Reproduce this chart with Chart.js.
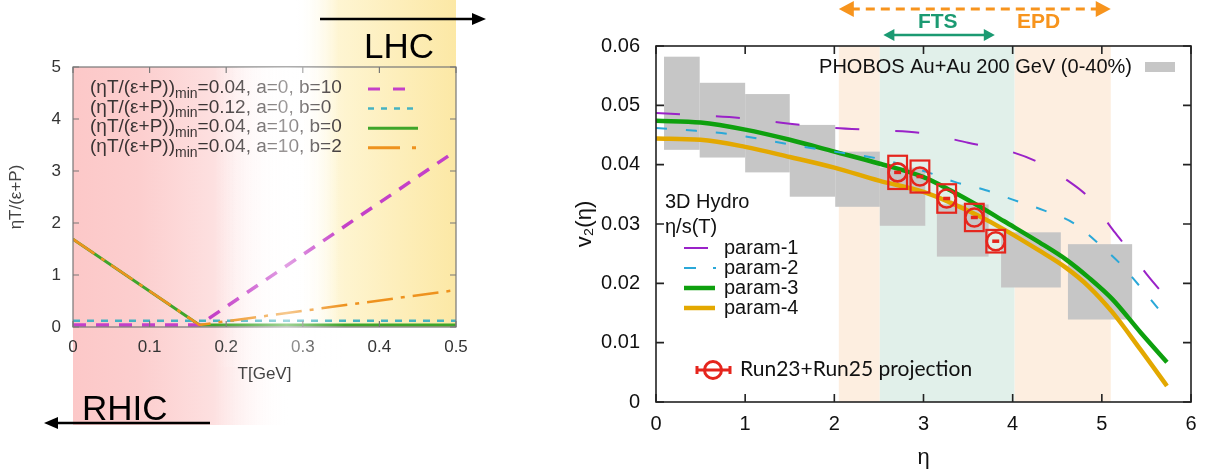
<!DOCTYPE html>
<html>
<head>
<meta charset="utf-8">
<script src="https://cdn.jsdelivr.net/npm/chart.js@4.4.0/dist/chart.umd.min.js"></script>
<style>
  html, body { margin: 0; padding: 0; background: #fff; }
  body { width: 1207px; height: 471px; position: relative; overflow: hidden; }
  canvas { position: absolute; top: 0; }
  #left { left: 0; }
  #right { left: 560px; }
</style>
</head>
<body>
<canvas id="left" width="560" height="471"></canvas>
<canvas id="right" width="647" height="471"></canvas>
<script>
// ---- left panel: (eta T/(e+P)) vs T ----
const tempTicks = [0, 0.1, 0.2, 0.3, 0.4, 0.5];
const tempLabels = ['0', '0.1', '0.2', '0.3', '0.4', '0.5'];
const ratioTicks = [0, 1, 2, 3, 4, 5];
const ratioLabels = ['0', '1', '2', '3', '4', '5'];

const setA0B10 = [{x: 0, y: 0.04}, {x: 0.165, y: 0.04}, {x: 0.5, y: 3.39}];
const setA0B0 = [{x: 0, y: 0.12}, {x: 0.5, y: 0.12}];
const setA10B0 = [{x: 0, y: 1.69}, {x: 0.165, y: 0.04}, {x: 0.5, y: 0.04}];
const setA10B2 = [{x: 0, y: 1.69}, {x: 0.165, y: 0.04}, {x: 0.5, y: 0.71}];
const setMin = ['0.04', '0.12', '0.04', '0.04'];
const setA = ['0', '0', '10', '10'];
const setB = ['10', '0', '0', '2'];

// ---- right panel: v2(eta) ----
const etaTicks = [0, 1, 2, 3, 4, 5, 6];
const etaLabels = ['0', '1', '2', '3', '4', '5', '6'];
const v2Ticks = [0, 0.01, 0.02, 0.03, 0.04, 0.05, 0.06];
const v2Labels = ['0', '0.01', '0.02', '0.03', '0.04', '0.05', '0.06'];

const param1 = [[0, .0487], [0.5, .0483], [1.0, .0478], [1.5, .0469], [2.0, .0462], [2.5, .0458], [3.0, .0453], [3.5, .0437], [4.0, .0421], [4.3, .0403], [4.6, .0375], [4.85, .0345], [5.12, .0291], [5.27, .0262], [5.52, .0212], [5.7, .0180]];
const param2 = [[0, .0462], [0.45, .0457], [0.8, .0452], [1.15, .0444], [1.5, .0434], [2.0, .0422], [2.5, .0410], [3.05, .0387], [3.35, .0371], [3.7, .0357], [4.0, .0341], [4.35, .0323], [4.7, .0300], [4.94, .0270], [5.2, .0234], [5.42, .0196], [5.7, .0145]];
const param3 = [[0, .0474], [0.5, .0471], [1.0, .0459], [1.5, .0442], [2.0, .0422], [2.5, .0402], [3.0, .0379], [3.3, .0357], [3.6, .0332], [3.9, .0305], [4.3, .0269], [4.6, .0240], [4.85, .0210], [5.12, .0173], [5.43, .0118], [5.73, .0067]];
const param4 = [[0, .0444], [0.5, .0442], [1.0, .0430], [1.5, .0413], [2.0, .0395], [2.5, .0373], [3.0, .0354], [3.3, .0336], [3.6, .0315], [3.9, .0291], [4.3, .0255], [4.6, .0226], [4.85, .0195], [5.12, .0151], [5.43, .0089], [5.73, .0027]];

const phobosLo = [0.09, 0.49, 1.00, 1.50, 2.01, 2.51, 3.15, 3.87, 4.62];
const phobosHi = [0.49, 1.00, 1.50, 2.01, 2.51, 3.02, 3.73, 4.54, 5.34];
const phobosTop = [0.0582, 0.0538, 0.0519, 0.0467, 0.0422, 0.0395, 0.0333, 0.0286, 0.0266];
const phobosBot = [0.0425, 0.0412, 0.0387, 0.0346, 0.0329, 0.0297, 0.0245, 0.0193, 0.0139];

const projEta = [2.71, 2.96, 3.26, 3.57, 3.81];
const projV2 = [0.0387, 0.0380, 0.0343, 0.0311, 0.0271];
const projSys = [0.0028, 0.0027, 0.0024, 0.0023, 0.0019];
const projSysEta = 0.105;

const epdBands = [[2.05, 2.51], [4.02, 5.10]];
const ftsBand = [2.51, 4.02];
const epdArrow = [2.05, 5.10];
const ftsArrow = [2.55, 3.80];

const SANS = '"Liberation Sans", Arial, sans-serif';
const pts = arr => arr.map(p => ({x: p[0], y: p[1]}));

function frameTicks(chart, color, width, len) {
  const {ctx, chartArea: a, scales: {x, y}} = chart;
  ctx.save();
  ctx.strokeStyle = color;
  ctx.lineWidth = width;
  ctx.strokeRect(a.left, a.top, a.right - a.left, a.bottom - a.top);
  ctx.beginPath();
  x.ticks.forEach(t => {
    const px = x.getPixelForValue(t.value);
    ctx.moveTo(px, a.bottom); ctx.lineTo(px, a.bottom - len);
    ctx.moveTo(px, a.top); ctx.lineTo(px, a.top + len);
  });
  y.ticks.forEach(t => {
    const py = y.getPixelForValue(t.value);
    ctx.moveTo(a.left, py); ctx.lineTo(a.left + len, py);
    ctx.moveTo(a.right, py); ctx.lineTo(a.right - len, py);
  });
  ctx.stroke();
  ctx.restore();
}

function arrowHead(ctx, x, y, dir, len, half) {
  ctx.beginPath();
  ctx.moveTo(x, y);
  ctx.lineTo(x - dir * len, y - half);
  ctx.lineTo(x - dir * len, y + half);
  ctx.closePath();
  ctx.fill();
}

const green = '#3fa52a', cyanL = '#45b2c2', magenta = '#c440c8', orangeL = '#ee921e';

const leftDeco = {
  id: 'leftDeco',
  beforeDraw(chart) {
    const {ctx, chartArea: a, scales: {x}} = chart;
    ctx.save();
    // RHIC side (pink) and LHC side (yellow)
    const pEnd = x.getPixelForValue(0.283);
    let g = ctx.createLinearGradient(a.left, 0, pEnd, 0);
    g.addColorStop(0, 'rgb(252,200,200)');
    g.addColorStop(0.3, 'rgb(252,206,206)');
    g.addColorStop(0.65, 'rgb(253,224,224)');
    g.addColorStop(1, 'rgba(255,255,255,0)');
    ctx.fillStyle = g;
    ctx.fillRect(a.left, a.top, pEnd - a.left, 425 - a.top);
    const yStart = x.getPixelForValue(0.29);
    g = ctx.createLinearGradient(yStart, 0, a.right, 0);
    g.addColorStop(0, 'rgba(255,255,255,0)');
    g.addColorStop(0.27, 'rgb(254,245,210)');
    g.addColorStop(0.65, 'rgb(253,238,186)');
    g.addColorStop(1, 'rgb(252,232,165)');
    ctx.fillStyle = g;
    ctx.fillRect(yStart, 0, a.right - yStart, a.bottom);
    ctx.restore();
  },
  afterDatasetsDraw(chart) {
    frameTicks(chart, '#777', 1.2, 6);
  },
  afterDraw(chart) {
    const {ctx} = chart;
    ctx.save();
    // legend
    const styles = [
      {c: magenta, w: 3, d: [12, 13]},
      {c: cyanL, w: 2.5, d: [6, 7]},
      {c: green, w: 3, d: []},
      {c: orangeL, w: 3, d: [32, 12, 4, 40]}
    ];
    ctx.textBaseline = 'middle';
    for (let i = 0; i < 4; i++) {
      const y = 88 + i * 19.6;
      let tx = 90;
      ctx.fillStyle = '#3a3434';
      ctx.font = '19px ' + SANS;
      ctx.fillText('(ηT/(ε+P))', tx, y);
      tx += ctx.measureText('(ηT/(ε+P))').width;
      ctx.font = '14px ' + SANS;
      ctx.fillText('min', tx, y + 6);
      tx += ctx.measureText('min').width;
      ctx.font = '19px ' + SANS;
      const rest = '=' + setMin[i] + ', a=' + setA[i] + ', b=' + setB[i];
      ctx.fillText(rest, tx, y);
      const s = styles[i];
      ctx.strokeStyle = s.c; ctx.lineWidth = s.w; ctx.setLineDash(s.d);
      ctx.beginPath(); ctx.moveTo(368, y + 1); ctx.lineTo(418, y + 1); ctx.stroke();
    }
    ctx.setLineDash([]);
    // fade band between the two regions
    const g = ctx.createLinearGradient(215, 0, 345, 0);
    g.addColorStop(0, 'rgba(255,255,255,0)');
    g.addColorStop(0.55, 'rgba(255,255,255,0.5)');
    g.addColorStop(1, 'rgba(255,255,255,0)');
    ctx.fillStyle = g;
    ctx.fillRect(215, 67, 130, 300);
    // RHIC / LHC arrows
    ctx.fillStyle = '#000'; ctx.strokeStyle = '#000'; ctx.lineWidth = 2.5;
    ctx.beginPath(); ctx.moveTo(320, 19); ctx.lineTo(474, 19); ctx.stroke();
    arrowHead(ctx, 486, 19, 1, 14, 6);
    ctx.beginPath(); ctx.moveTo(210, 423); ctx.lineTo(56, 423); ctx.stroke();
    arrowHead(ctx, 44, 423, -1, 14, 6);
    ctx.font = '35px ' + SANS;
    ctx.textBaseline = 'alphabetic';
    ctx.fillText('LHC', 364, 58);
    ctx.fillText('RHIC', 82, 420);
    ctx.restore();
  }
};

// Chart.js draws the first dataset on top, so the list runs top to bottom
new Chart(document.getElementById('left'), {
  type: 'line',
  data: {
    datasets: [
      {data: setA10B2, borderColor: orangeL, borderWidth: 2.5, borderDash: [26, 8, 4, 8], pointRadius: 0},
      {data: setA0B10, borderColor: magenta, borderWidth: 3.5, borderDash: [13, 10], pointRadius: 0},
      {data: setA0B0, borderColor: cyanL, borderWidth: 2.5, borderDash: [7, 7], pointRadius: 0},
      {data: setA10B0, borderColor: green, borderWidth: 3, pointRadius: 0}
    ]
  },
  options: {
    responsive: false,
    animation: false,
    events: [],
    layout: {padding: {left: 0, top: 67, right: 104, bottom: 0}},
    plugins: {legend: {display: false}, tooltip: {enabled: false}},
    scales: {
      x: {
        type: 'linear', min: 0, max: 0.5,
        afterBuildTicks: s => { s.ticks = tempTicks.map(v => ({value: v})); },
        afterFit: s => { s.height = 144; },
        grid: {display: false, drawTicks: false},
        border: {display: false},
        ticks: {padding: 10, color: '#333', font: {family: SANS, size: 17}, maxRotation: 0, autoSkip: false,
                callback: (v, i) => tempLabels[i]},
        title: {display: true, text: 'T[GeV]', color: '#444', font: {family: SANS, size: 17}, padding: {top: 0, bottom: 86}}
      },
      y: {
        type: 'linear', min: 0, max: 5,
        afterBuildTicks: s => { s.ticks = ratioTicks.map(v => ({value: v})); },
        afterFit: s => { s.width = 73; },
        grid: {display: false, drawTicks: false},
        border: {display: false},
        ticks: {padding: 12, color: '#333', font: {family: SANS, size: 17}, autoSkip: false,
                callback: (v, i) => ratioLabels[i]},
        title: {display: true, text: 'ηT/(ε+P)', color: '#444', font: {family: SANS, size: 17}, padding: {top: 6, bottom: 0}}
      }
    }
  },
  plugins: [leftDeco]
});

// ---- right panel ----
const purple = '#9a22c8', cyan = '#2aa8d8', greenR = '#0ea00e', gold = '#e3a800', red = '#e5251d', orange = '#f7941d', teal = '#1b9a72';

const rightDeco = {
  id: 'rightDeco',
  beforeDraw(chart) {
    const {ctx, chartArea: a, scales: {x}} = chart;
    ctx.save();
    ctx.fillStyle = '#fdeee0';
    epdBands.forEach(b => {
      const x0 = x.getPixelForValue(b[0]), x1 = x.getPixelForValue(b[1]);
      ctx.fillRect(x0, a.top, x1 - x0, a.bottom - a.top);
    });
    ctx.fillStyle = '#e1f0ea';
    const f0 = x.getPixelForValue(ftsBand[0]), f1 = x.getPixelForValue(ftsBand[1]);
    ctx.fillRect(f0, a.top, f1 - f0, a.bottom - a.top);
    ctx.restore();
  },
  beforeDatasetsDraw(chart) {
    const {ctx, scales: {x, y}} = chart;
    ctx.save();
    ctx.fillStyle = '#c6c6c6';
    for (let i = 0; i < phobosLo.length; i++) {
      const x0 = x.getPixelForValue(phobosLo[i]), x1 = x.getPixelForValue(phobosHi[i]);
      const y0 = y.getPixelForValue(phobosTop[i]), y1 = y.getPixelForValue(phobosBot[i]);
      ctx.fillRect(x0, y0, x1 - x0, y1 - y0);
    }
    ctx.restore();
  },
  afterDatasetsDraw(chart) {
    const {ctx, scales: {x, y}} = chart;
    ctx.save();
    ctx.strokeStyle = red;
    ctx.lineWidth = 2.2;
    for (let i = 0; i < projEta.length; i++) {
      const x0 = x.getPixelForValue(projEta[i] - projSysEta), x1 = x.getPixelForValue(projEta[i] + projSysEta);
      const y0 = y.getPixelForValue(projV2[i] + projSys[i]), y1 = y.getPixelForValue(projV2[i] - projSys[i]);
      ctx.strokeRect(x0, y0, x1 - x0, y1 - y0);
    }
    ctx.restore();
    frameTicks(chart, '#222', 1.6, 8);
  },
  afterDraw(chart) {
    const {ctx, scales: {x}} = chart;
    ctx.save();
    // detector acceptance arrows
    const e0 = x.getPixelForValue(epdArrow[0]), e1 = x.getPixelForValue(epdArrow[1]);
    ctx.strokeStyle = orange; ctx.fillStyle = orange; ctx.lineWidth = 3;
    ctx.setLineDash([9, 6]);
    ctx.beginPath(); ctx.moveTo(e0 + 12, 9); ctx.lineTo(e1 - 12, 9); ctx.stroke();
    ctx.setLineDash([]);
    arrowHead(ctx, e0, 9, -1, 15, 8);
    arrowHead(ctx, e1, 9, 1, 15, 8);
    const t0 = x.getPixelForValue(ftsArrow[0]), t1 = x.getPixelForValue(ftsArrow[1]);
    ctx.strokeStyle = teal; ctx.fillStyle = teal; ctx.lineWidth = 2.5;
    ctx.beginPath(); ctx.moveTo(t0 + 8, 35); ctx.lineTo(t1 - 8, 35); ctx.stroke();
    arrowHead(ctx, t0, 35, -1, 11, 6);
    arrowHead(ctx, t1, 35, 1, 11, 6);
    ctx.font = 'bold 21px ' + SANS;
    ctx.textAlign = 'center'; ctx.textBaseline = 'middle';
    ctx.fillText('FTS', x.getPixelForValue(3.16), 22);
    ctx.fillStyle = orange;
    ctx.fillText('EPD', x.getPixelForValue(4.29), 22);

    // PHOBOS legend
    ctx.fillStyle = '#111';
    ctx.font = '20px ' + SANS;
    ctx.textAlign = 'right';
    ctx.fillText('PHOBOS Au+Au 200 GeV (0-40%)', 572, 67);
    ctx.fillStyle = '#c6c6c6';
    ctx.fillRect(585, 62, 30, 10);

    // hydro legend
    ctx.textAlign = 'left';
    ctx.fillStyle = '#111';
    ctx.fillText('3D Hydro', 105, 202);
    ctx.fillText('η/s(T)', 105, 227);
    const names = ['param-1', 'param-2', 'param-3', 'param-4'];
    const styles = [
      {c: purple, w: 2, d: [], x1: 148},
      {c: cyan, w: 2, d: [12, 17], x1: 156},
      {c: greenR, w: 4.5, d: [], x1: 155},
      {c: gold, w: 4.5, d: [], x1: 155}
    ];
    names.forEach((n, i) => {
      const yy = 248 + i * 20;
      const s = styles[i];
      ctx.strokeStyle = s.c; ctx.lineWidth = s.w; ctx.setLineDash(s.d);
      ctx.beginPath(); ctx.moveTo(124, yy); ctx.lineTo(s.x1, yy); ctx.stroke();
      ctx.setLineDash([]);
      ctx.fillStyle = '#111';
      ctx.fillText(n, 164, yy);
    });

    // projection legend
    ctx.strokeStyle = red; ctx.lineWidth = 3;
    ctx.beginPath();
    ctx.moveTo(137, 370); ctx.lineTo(170, 370);
    ctx.moveTo(137, 366); ctx.lineTo(137, 374);
    ctx.moveTo(170, 366); ctx.lineTo(170, 374);
    ctx.stroke();
    ctx.beginPath(); ctx.arc(153, 370, 8.5, 0, Math.PI * 2); ctx.stroke();
    ctx.fillStyle = '#111';
    ctx.font = '21px Lato, "Open Sans", sans-serif';
    ctx.fillText('Run23+Run25 projection', 180, 369);
    ctx.restore();
  }
};

new Chart(document.getElementById('right'), {
  type: 'line',
  data: {
    datasets: [
      {data: projEta.map((e, i) => ({x: e, y: projV2[i]})), showLine: false, pointStyle: 'line',
       pointRadius: 3.5, pointBorderWidth: 3.5, pointBorderColor: red},
      {data: projEta.map((e, i) => ({x: e, y: projV2[i]})), showLine: false, pointStyle: 'circle',
       pointRadius: 9, pointBorderWidth: 2.6, pointBorderColor: red, pointBackgroundColor: 'rgba(0,0,0,0)'},
      {data: pts(param1), borderColor: purple, borderWidth: 2, borderDash: [24, 36], pointRadius: 0, cubicInterpolationMode: 'monotone'},
      {data: pts(param2), borderColor: cyan, borderWidth: 2, borderDash: [11, 19], pointRadius: 0, cubicInterpolationMode: 'monotone'},
      {data: pts(param3), borderColor: greenR, borderWidth: 4.5, pointRadius: 0, cubicInterpolationMode: 'monotone'},
      {data: pts(param4), borderColor: gold, borderWidth: 4.5, pointRadius: 0, cubicInterpolationMode: 'monotone'}
    ]
  },
  options: {
    responsive: false,
    animation: false,
    events: [],
    layout: {padding: {left: 0, top: 46, right: 16, bottom: 0}},
    plugins: {legend: {display: false}, tooltip: {enabled: false}},
    scales: {
      x: {
        type: 'linear', min: 0, max: 6,
        afterBuildTicks: s => { s.ticks = etaTicks.map(v => ({value: v})); },
        afterFit: s => { s.height = 69; },
        grid: {display: false, drawTicks: false},
        border: {display: false},
        ticks: {padding: 10, color: '#111', font: {family: SANS, size: 20}, maxRotation: 0, autoSkip: false,
                callback: (v, i) => etaLabels[i]},
        title: {display: true, text: 'η', color: '#111', font: {family: SANS, size: 22}, padding: {top: 0, bottom: 0}}
      },
      y: {
        type: 'linear', min: 0, max: 0.06,
        afterBuildTicks: s => { s.ticks = v2Ticks.map(v => ({value: v})); },
        afterFit: s => { s.width = 96; },
        grid: {display: false, drawTicks: false},
        border: {display: false},
        ticks: {padding: 16, color: '#111', font: {family: SANS, size: 20}, autoSkip: false,
                callback: (v, i) => v2Labels[i]},
        title: {display: true, text: 'v₂(η)', color: '#111', font: {family: SANS, size: 22}, padding: {top: 12, bottom: 0}}
      }
    }
  },
  plugins: [rightDeco]
});
</script>
</body>
</html>
